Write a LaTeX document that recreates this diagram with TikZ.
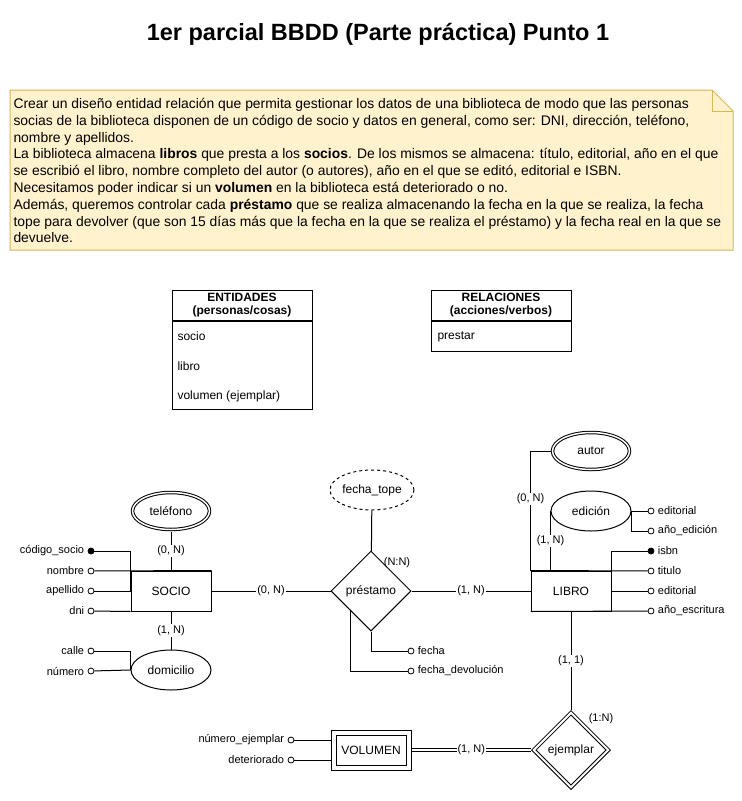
\documentclass[tikz,border=0pt]{standalone}
\usepackage{fontspec}
\setmainfont{Liberation Sans}
\usetikzlibrary{shapes.geometric}

\definecolor{notefill}{HTML}{FFF2CC}
\definecolor{notedraw}{HTML}{D6B656}

\begin{document}
\begin{tikzpicture}[x=1pt, y=-1pt, line width=1pt,
    entity/.style={draw, rectangle, minimum width=80pt, minimum height=40pt, inner sep=0pt, font=\fontsize{12}{14}\selectfont},
    weakentity/.style={entity, double, double distance=4pt, minimum width=75pt, minimum height=35pt, outer sep=3pt},
    attrib/.style={draw, ellipse, minimum width=80pt, minimum height=40pt, inner sep=0pt, font=\fontsize{12}{14}\selectfont},
    multiattrib/.style={attrib, double, double distance=1.5pt, minimum width=77pt, minimum height=37pt, outer sep=2pt},
    derivedattrib/.style={attrib, dash pattern=on 3pt off 3pt},
    relation/.style={draw, diamond, minimum width=80pt, minimum height=80pt, inner sep=0pt, font=\fontsize{12}{14}\selectfont},
    weakrelation/.style={relation, double, double distance=2pt, minimum width=76pt, minimum height=76pt, outer sep=2pt},
    simpleattr/.style={draw, circle, fill=white, minimum size=6pt, inner sep=0pt, line width=0.8pt},
    keyattr/.style={simpleattr, fill=black},
    attrname/.style={font=\fontsize{11}{13}\selectfont, inner sep=3pt},
    card/.style={fill=white, inner sep=1pt, font=\fontsize{11}{13}\selectfont},
    tablehead/.style={draw, minimum width=140pt, minimum height=30pt, inner sep=0pt, align=center, font=\bfseries\fontsize{12}{13}\selectfont},
    tablebody/.style={draw, minimum width=140pt, inner sep=0pt},
    tableitem/.style={anchor=base west, inner sep=0pt, font=\fontsize{12}{14}\selectfont}
]
    % Page
    \path[use as bounding box, fill=white] (0, 0) rectangle (742, 801);

    % Title
    \node (title) at (378, 40.5) [anchor=base, font=\bfseries\fontsize{23.5}{28}\selectfont] {1er parcial BBDD (Parte práctica) Punto 1};

    % Statement note
    \draw[notedraw, fill=notefill] (10, 90) -- (712, 90) -- (733, 111) -- (733, 250) -- (10, 250) -- cycle;
    \draw[notedraw] (712, 90) -- (712, 111) -- (733, 111);
    \node (statement) at (13, 96.2) [anchor=north west, inner sep=0pt, align=left, font=\fontsize{13.9}{16.8}\selectfont] {\strut Crear un diseño entidad relación que permita gestionar los datos de una biblioteca de modo que las personas\\
    socias de la biblioteca disponen de un código de socio y datos en general, como ser: DNI, dirección, teléfono,\\
    nombre y apellidos.\\
    La biblioteca almacena \textbf{libros} que presta a los \textbf{socios}. De los mismos se almacena: título, editorial, año en el que\\
    se escribió el libro, nombre completo del autor (o autores), año en el que se editó, editorial e ISBN.\\
    Necesitamos poder indicar si un \textbf{volumen} en la biblioteca está deteriorado o no.\\
    Además, queremos controlar cada \textbf{préstamo} que se realiza almacenando la fecha en la que se realiza, la fecha\\
    tope para devolver (que son 15 días más que la fecha en la que se realiza el préstamo) y la fecha real en la que se\\
    devuelve.};

    % Entities list
    \node (enthead) at (242, 305) [tablehead] {ENTIDADES\\(personas/cosas)};
    \node (entbody) at (enthead.south) [tablebody, anchor=north, minimum height=88pt] {};
    \node (entsocio) at (177, 340) [tableitem] {socio};
    \node (entlibro) at (177, 370) [tableitem] {libro};
    \node (entvolumen) at (177, 399.5) [tableitem] {volumen (ejemplar)};

    % Relations list
    \node (relhead) at (501, 305) [tablehead] {RELACIONES\\(acciones/verbos)};
    \node (relbody) at (relhead.south) [tablebody, anchor=north, minimum height=30pt] {};
    \node (relprestar) at (437, 339.5) [tableitem] {prestar};

    % Entities and relations
    \node (socio) at (171, 591) [entity] {SOCIO};
    \node (libro) at (571, 591) [entity] {LIBRO};
    \node (volumen) at (371, 750) [weakentity] {VOLUMEN};
    \node (prestamo) at (371, 591) [relation] {préstamo};
    \node (ejemplar) at (571, 750) [weakrelation] {ejemplar};

    % Composite, multivalued and derived attributes
    \node (telefono) at (171, 511) [multiattrib] {teléfono};
    \node (domicilio) at (171, 670) [attrib] {domicilio};
    \node (fechatope) at (372, 490) [derivedattrib] {fecha\_tope};
    \node (autor) at (591, 451) [multiattrib] {autor};
    \node (edicion) at (591, 511) [attrib] {edición};

    % Simple attributes
    \node (codsocio) at (91, 551) [keyattr, label={[name=codsociotxt, attrname]left:código\_socio}] {};
    \node (nombre) at (91, 571) [simpleattr, label={[name=nombretxt, attrname]left:nombre}] {};
    \node (apellido) at (91, 591) [simpleattr, label={[name=apellidotxt, attrname]left:apellido}] {};
    \node (dni) at (91, 611) [simpleattr, label={[name=dnitxt, attrname]left:dni}] {};
    \node (calle) at (91, 651) [simpleattr, label={[name=calletxt, attrname]left:calle}] {};
    \node (numero) at (91, 671) [simpleattr, label={[name=numerotxt, attrname]left:número}] {};
    \node (fecha) at (411, 651) [simpleattr, label={[name=fechatxt, attrname]right:fecha}] {};
    \node (fechadev) at (411, 671) [simpleattr, label={[name=fechadevtxt, attrname]right:fecha\_devolución}] {};
    \node (editorialed) at (651, 511) [simpleattr, label={[name=editorialedtxt, attrname]right:editorial}] {};
    \node (anoedicion) at (651, 531) [simpleattr, label={[name=anoediciontxt, attrname]right:año\_edición}] {};
    \node (isbn) at (651, 551) [keyattr, label={[name=isbntxt, attrname]right:isbn}] {};
    \node (titulo) at (651, 571) [simpleattr, label={[name=titulotxt, attrname]right:titulo}] {};
    \node (editorial) at (651, 591) [simpleattr, label={[name=editorialtxt, attrname]right:editorial}] {};
    \node (anoescritura) at (651, 611) [simpleattr, label={[name=anoescrituratxt, attrname]right:año\_escritura}] {};
    \node (numejemplar) at (291, 740) [simpleattr, label={[name=numejemplartxt, attrname]left:número\_ejemplar}] {};
    \node (deteriorado) at (291, 760) [simpleattr, label={[name=deterioradotxt, attrname]left:deteriorado}] {};

    % Relation cardinalities
    \node (cardprestamo) at (397, 563) [attrname] {(N:N)};
    \node (cardejemplar) at (601, 719) [attrname] {(1:N)};

    % SOCIO links
    \draw (codsocio) -| (socio.west);
    \draw (nombre) -- (socio.north east);
    \draw (apellido) -- (socio.west);
    \draw (dni) -- (socio.south west);
    \draw (telefono) -- node[card] {(0, N)} (socio);
    \draw (socio) -- node[card] {(1, N)} (domicilio);
    \draw (calle) -| (domicilio.west);
    \draw (numero) -- (domicilio.west);

    % préstamo links
    \draw (socio) -- node[card] {(0, N)} (prestamo);
    \draw (prestamo) -- node[card] {(1, N)} (libro);
    \draw (fechatope) -- (prestamo);
    \draw (prestamo.south) |- (fecha);
    \draw (prestamo.south west) |- (fechadev);

    % LIBRO links
    \draw (autor.west) -| node[card, pos=0.7] {(0, N)} (libro.north west);
    \draw (edicion.west) -- node[card] {(1, N)} (edicion.west |- libro.north);
    \draw (edicion.east) -- (editorialed);
    \draw (anoedicion) -| (edicion.east);
    \draw (isbn) -| (libro.east);
    \draw (titulo) -- (libro.north west);
    \draw (editorial) -- (libro.east);
    \draw (anoescritura) -- (libro.south west);

    % ejemplar links
    \draw (libro) -- node[card] {(1, 1)} (ejemplar);
    \draw[double, double distance=2pt] (volumen) -- node[card] {(1, N)} (ejemplar);
    \draw (numejemplar) -- (numejemplar -| volumen.west);
    \draw (deteriorado) -- (deteriorado -| volumen.west);
\end{tikzpicture}
\end{document}
